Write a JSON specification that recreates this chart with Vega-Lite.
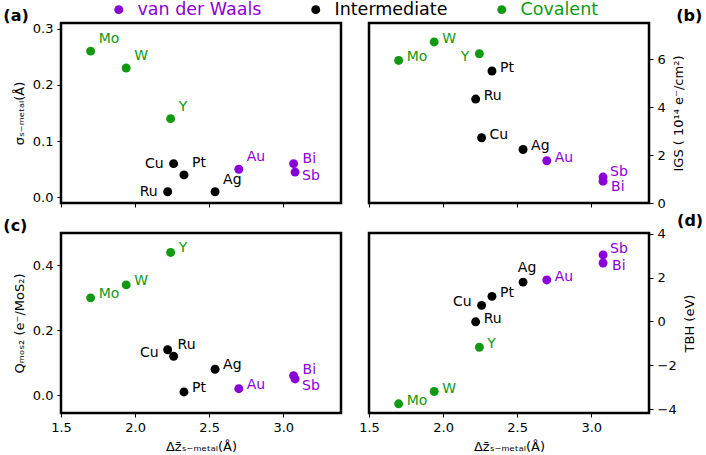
{
  "$schema": "https://vega.github.io/schema/vega-lite/v6.json",
  "padding": {"left": 2, "top": 0, "right": 2, "bottom": 2},
  "background": "white",
  "data": {"values": [
    {"panel":"a","el":"Mo","g":"Covalent","x":1.70,"y":0.26},
    {"panel":"a","el":"W","g":"Covalent","x":1.94,"y":0.23},
    {"panel":"a","el":"Y","g":"Covalent","x":2.24,"y":0.14},
    {"panel":"a","el":"Cu","g":"Intermediate","x":2.26,"y":0.06},
    {"panel":"a","el":"Pt","g":"Intermediate","x":2.33,"y":0.04},
    {"panel":"a","el":"Ru","g":"Intermediate","x":2.22,"y":0.01},
    {"panel":"a","el":"Ag","g":"Intermediate","x":2.54,"y":0.01},
    {"panel":"a","el":"Au","g":"van der Waals","x":2.70,"y":0.05},
    {"panel":"a","el":"Bi","g":"van der Waals","x":3.07,"y":0.06},
    {"panel":"a","el":"Sb","g":"van der Waals","x":3.08,"y":0.045},
    {"panel":"b","el":"Mo","g":"Covalent","x":1.70,"y":5.94},
    {"panel":"b","el":"W","g":"Covalent","x":1.94,"y":6.71},
    {"panel":"b","el":"Y","g":"Covalent","x":2.245,"y":6.22},
    {"panel":"b","el":"Pt","g":"Intermediate","x":2.33,"y":5.50},
    {"panel":"b","el":"Ru","g":"Intermediate","x":2.22,"y":4.33},
    {"panel":"b","el":"Cu","g":"Intermediate","x":2.26,"y":2.72},
    {"panel":"b","el":"Ag","g":"Intermediate","x":2.54,"y":2.23},
    {"panel":"b","el":"Au","g":"van der Waals","x":2.70,"y":1.76},
    {"panel":"b","el":"Sb","g":"van der Waals","x":3.08,"y":1.08},
    {"panel":"b","el":"Bi","g":"van der Waals","x":3.08,"y":0.91},
    {"panel":"c","el":"Mo","g":"Covalent","x":1.70,"y":0.30},
    {"panel":"c","el":"W","g":"Covalent","x":1.94,"y":0.34},
    {"panel":"c","el":"Y","g":"Covalent","x":2.24,"y":0.44},
    {"panel":"c","el":"Cu","g":"Intermediate","x":2.22,"y":0.14},
    {"panel":"c","el":"Ru","g":"Intermediate","x":2.26,"y":0.12},
    {"panel":"c","el":"Ag","g":"Intermediate","x":2.54,"y":0.08},
    {"panel":"c","el":"Pt","g":"Intermediate","x":2.33,"y":0.01},
    {"panel":"c","el":"Au","g":"van der Waals","x":2.70,"y":0.02},
    {"panel":"c","el":"Bi","g":"van der Waals","x":3.07,"y":0.06},
    {"panel":"c","el":"Sb","g":"van der Waals","x":3.08,"y":0.05},
    {"panel":"d","el":"Mo","g":"Covalent","x":1.70,"y":-3.76},
    {"panel":"d","el":"W","g":"Covalent","x":1.94,"y":-3.20},
    {"panel":"d","el":"Y","g":"Covalent","x":2.245,"y":-1.18},
    {"panel":"d","el":"Ru","g":"Intermediate","x":2.22,"y":-0.02},
    {"panel":"d","el":"Cu","g":"Intermediate","x":2.26,"y":0.73},
    {"panel":"d","el":"Pt","g":"Intermediate","x":2.33,"y":1.14},
    {"panel":"d","el":"Ag","g":"Intermediate","x":2.54,"y":1.79},
    {"panel":"d","el":"Au","g":"van der Waals","x":2.70,"y":1.89},
    {"panel":"d","el":"Sb","g":"van der Waals","x":3.08,"y":3.03},
    {"panel":"d","el":"Bi","g":"van der Waals","x":3.08,"y":2.66}
  ]},
  "columns": 2,
  "spacing": {"row": 30, "column": 28},
  "bounds": "flush",
  "concat": [
    {
      "width": 280, "height": 180,
      "title": {"text": "(a)", "anchor": "start", "frame": "bounds", "dx": -10, "offset": -1, "fontSize": 16, "fontWeight": "bold"},
      "transform": [{"filter": "datum.panel === 'a'"}],
      "encoding": {
        "x": {"field": "x", "type": "quantitative", "scale": {"domain": [1.5, 3.39], "nice": false, "zero": false}, "axis": {"values": [1.5, 2, 2.5, 3], "labels": false, "title": null}},
        "y": {"field": "y", "type": "quantitative", "scale": {"domain": [-0.01, 0.31], "nice": false, "zero": false}, "axis": {"values": [0, 0.1, 0.2, 0.3], "format": ".1f", "title": "σₛ₋ₘₑₜₐₗ(Å)"}},
        "color": {"field": "g", "type": "nominal",
          "scale": {"domain": ["van der Waals", "Intermediate", "Covalent"], "range": ["#8a00d8", "#000000", "#119911"]},
          "legend": {"title": null, "orient": "none", "legendX": 49, "legendY": -22.5, "direction": "horizontal", "symbolType": "circle", "symbolSize": 80, "symbolOpacity": 1, "symbolStrokeWidth": 0, "labelFontSize": 17.5, "labelFont": "DejaVu Sans", "labelOffset": 10, "columnPadding": 45,
            "encode": {"labels": {"update": {"fill": {"scale": "color", "field": "value"}}}}}
        }
      },
      "layer": [
        {"mark": {"type": "circle", "size": 80, "opacity": 1}},
        {"transform": [{"filter": {"field": "el", "oneOf": ["Mo", "W", "Y", "Au", "Pt", "Ag"]}}], "mark": {"type": "text", "align": "left", "baseline": "middle", "dx": 8, "dy": -12, "fontSize": 14}, "encoding": {"text": {"field": "el"}}},
        {"transform": [{"filter": {"field": "el", "oneOf": ["Cu", "Ru"]}}], "mark": {"type": "text", "align": "right", "baseline": "middle", "dx": -10, "dy": 0, "fontSize": 14}, "encoding": {"text": {"field": "el"}}},
        {"transform": [{"filter": {"field": "el", "oneOf": ["Bi"]}}], "mark": {"type": "text", "align": "left", "baseline": "middle", "dx": 9, "dy": -5, "fontSize": 14}, "encoding": {"text": {"field": "el"}}},
        {"transform": [{"filter": {"field": "el", "oneOf": ["Sb"]}}], "mark": {"type": "text", "align": "left", "baseline": "middle", "dx": 7, "dy": 4, "fontSize": 14}, "encoding": {"text": {"field": "el"}}}
      ]
    },
    {
      "width": 280, "height": 180,
      "title": {"text": "(b)", "anchor": "end", "frame": "bounds", "dx": 17, "offset": -1, "fontSize": 16, "fontWeight": "bold"},
      "transform": [{"filter": "datum.panel === 'b'"}],
      "encoding": {
        "x": {"field": "x", "type": "quantitative", "scale": {"domain": [1.5, 3.39], "nice": false, "zero": false}, "axis": {"values": [1.5, 2, 2.5, 3], "labels": false, "title": null}},
        "y": {"field": "y", "type": "quantitative", "scale": {"domain": [0, 7.5], "nice": false, "zero": false}, "axis": {"orient": "right", "values": [0, 2, 4, 6], "format": "d", "title": "IGS ( 10¹⁴ e⁻/cm²)", "titleAngle": 270, "titleBaseline": "top", "titlePadding": 7}},
        "color": {"field": "g", "type": "nominal", "scale": {"domain": ["van der Waals", "Intermediate", "Covalent"], "range": ["#8a00d8", "#000000", "#119911"]}}
      },
      "layer": [
        {"mark": {"type": "circle", "size": 80, "opacity": 1}},
        {"transform": [{"filter": {"field": "el", "oneOf": ["Mo", "W", "Pt", "Ru", "Cu", "Ag", "Au"]}}], "mark": {"type": "text", "align": "left", "baseline": "middle", "dx": 8, "dy": -3, "fontSize": 14}, "encoding": {"text": {"field": "el"}}},
        {"transform": [{"filter": {"field": "el", "oneOf": ["Sb"]}}], "mark": {"type": "text", "align": "left", "baseline": "middle", "dx": 7, "dy": -5, "fontSize": 14}, "encoding": {"text": {"field": "el"}}},
        {"transform": [{"filter": {"field": "el", "oneOf": ["Y"]}}], "mark": {"type": "text", "align": "right", "baseline": "middle", "dx": -10, "dy": 3, "fontSize": 14}, "encoding": {"text": {"field": "el"}}},
        {"transform": [{"filter": {"field": "el", "oneOf": ["Bi"]}}], "mark": {"type": "text", "align": "left", "baseline": "middle", "dx": 8, "dy": 6, "fontSize": 14}, "encoding": {"text": {"field": "el"}}}
      ]
    },
    {
      "width": 280, "height": 180,
      "title": {"text": "(c)", "anchor": "start", "frame": "bounds", "dx": -10, "offset": -1, "fontSize": 16, "fontWeight": "bold"},
      "transform": [{"filter": "datum.panel === 'c'"}],
      "encoding": {
        "x": {"field": "x", "type": "quantitative", "scale": {"domain": [1.5, 3.39], "nice": false, "zero": false}, "axis": {"values": [1.5, 2, 2.5, 3], "format": ".1f", "title": "Δz̄ₛ₋ₘₑₜₐₗ(Å)"}},
        "y": {"field": "y", "type": "quantitative", "scale": {"domain": [-0.055, 0.5], "nice": false, "zero": false}, "axis": {"values": [0, 0.2, 0.4], "format": ".1f", "title": "Qₘₒₛ₂ (e⁻/MoS₂)"}},
        "color": {"field": "g", "type": "nominal", "scale": {"domain": ["van der Waals", "Intermediate", "Covalent"], "range": ["#8a00d8", "#000000", "#119911"]}}
      },
      "layer": [
        {"mark": {"type": "circle", "size": 80, "opacity": 1}},
        {"transform": [{"filter": {"field": "el", "oneOf": ["Mo", "W", "Y", "Ag", "Pt", "Au"]}}], "mark": {"type": "text", "align": "left", "baseline": "middle", "dx": 8, "dy": -4, "fontSize": 14}, "encoding": {"text": {"field": "el"}}},
        {"transform": [{"filter": {"field": "el", "oneOf": ["Bi"]}}], "mark": {"type": "text", "align": "left", "baseline": "middle", "dx": 9, "dy": -6, "fontSize": 14}, "encoding": {"text": {"field": "el"}}},
        {"transform": [{"filter": {"field": "el", "oneOf": ["Cu"]}}], "mark": {"type": "text", "align": "right", "baseline": "middle", "dx": -9, "dy": 3, "fontSize": 14}, "encoding": {"text": {"field": "el"}}},
        {"transform": [{"filter": {"field": "el", "oneOf": ["Ru"]}}], "mark": {"type": "text", "align": "left", "baseline": "middle", "dx": 4, "dy": -11, "fontSize": 14}, "encoding": {"text": {"field": "el"}}},
        {"transform": [{"filter": {"field": "el", "oneOf": ["Sb"]}}], "mark": {"type": "text", "align": "left", "baseline": "middle", "dx": 7, "dy": 7, "fontSize": 14}, "encoding": {"text": {"field": "el"}}}
      ]
    },
    {
      "width": 280, "height": 180,
      "title": {"text": "(d)", "anchor": "end", "frame": "bounds", "dx": 7, "offset": -1, "fontSize": 16, "fontWeight": "bold"},
      "transform": [{"filter": "datum.panel === 'd'"}],
      "encoding": {
        "x": {"field": "x", "type": "quantitative", "scale": {"domain": [1.5, 3.39], "nice": false, "zero": false}, "axis": {"values": [1.5, 2, 2.5, 3], "format": ".1f", "title": "Δz̄ₛ₋ₘₑₜₐₗ(Å)"}},
        "y": {"field": "y", "type": "quantitative", "scale": {"domain": [-4.18, 4.03], "nice": false, "zero": false}, "axis": {"orient": "right", "values": [-4, -2, 0, 2, 4], "format": "d", "title": "TBH (eV)", "titleAngle": 270, "titleBaseline": "top", "titlePadding": 7}},
        "color": {"field": "g", "type": "nominal", "scale": {"domain": ["van der Waals", "Intermediate", "Covalent"], "range": ["#8a00d8", "#000000", "#119911"]}}
      },
      "layer": [
        {"mark": {"type": "circle", "size": 80, "opacity": 1}},
        {"transform": [{"filter": {"field": "el", "oneOf": ["Mo", "W", "Y", "Ru", "Pt", "Au"]}}], "mark": {"type": "text", "align": "left", "baseline": "middle", "dx": 8, "dy": -3, "fontSize": 14}, "encoding": {"text": {"field": "el"}}},
        {"transform": [{"filter": {"field": "el", "oneOf": ["Sb"]}}], "mark": {"type": "text", "align": "left", "baseline": "middle", "dx": 7, "dy": -6, "fontSize": 14}, "encoding": {"text": {"field": "el"}}},
        {"transform": [{"filter": {"field": "el", "oneOf": ["Cu"]}}], "mark": {"type": "text", "align": "right", "baseline": "middle", "dx": -10, "dy": -3, "fontSize": 14}, "encoding": {"text": {"field": "el"}}},
        {"transform": [{"filter": {"field": "el", "oneOf": ["Ag"]}}], "mark": {"type": "text", "align": "center", "baseline": "middle", "dx": 4, "dy": -14, "fontSize": 14}, "encoding": {"text": {"field": "el"}}},
        {"transform": [{"filter": {"field": "el", "oneOf": ["Bi"]}}], "mark": {"type": "text", "align": "left", "baseline": "middle", "dx": 9, "dy": 3, "fontSize": 14}, "encoding": {"text": {"field": "el"}}}
      ]
    }
  ],
  "config": {
    "font": "DejaVu Sans",
    "view": {"stroke": "black", "strokeWidth": 2.5},
    "axis": {"domain": false, "grid": false, "ticks": true, "tickColor": "black", "tickSize": 4, "tickWidth": 1, "labelFlush": false, "labelFont": "DejaVu Sans", "labelFontSize": 13, "labelColor": "black", "labelPadding": 4, "titleFont": "DejaVu Sans", "titleFontSize": 13, "titleFontWeight": "normal", "titleColor": "black", "titlePadding": 6},
    "text": {"font": "DejaVu Sans"},
    "title": {"font": "DejaVu Sans", "color": "black"}
  }
}
